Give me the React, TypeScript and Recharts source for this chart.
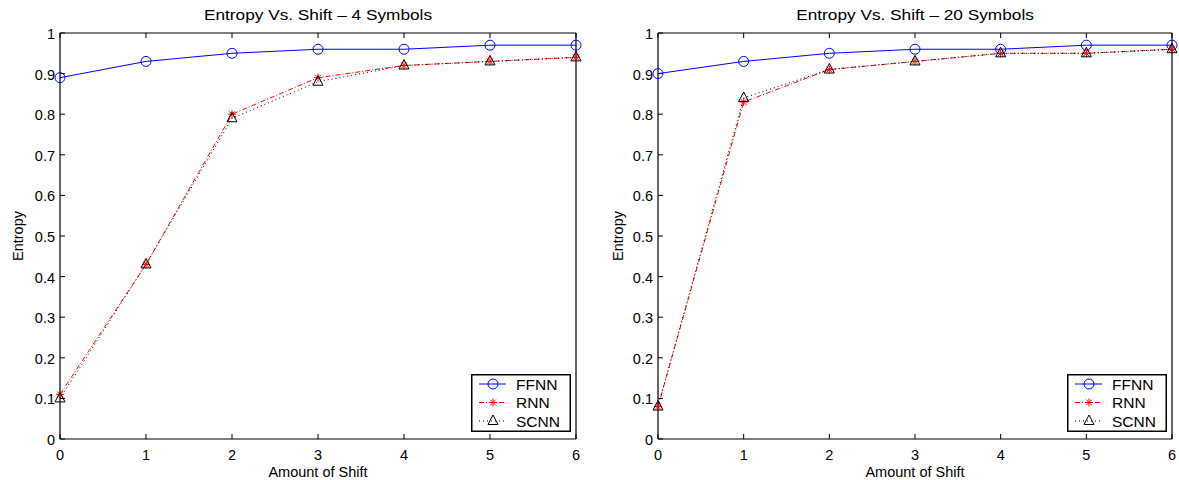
import React from 'react';
import { LineChart, Line, XAxis, YAxis, Legend, Label } from 'recharts';

const shifts = [0, 1, 2, 3, 4, 5, 6];
const ffnn4 = [0.89, 0.93, 0.95, 0.96, 0.96, 0.97, 0.97];
const rnn4 = [0.11, 0.43, 0.8, 0.89, 0.92, 0.93, 0.94];
const scnn4 = [0.1, 0.43, 0.79, 0.88, 0.92, 0.93, 0.94];
const ffnn20 = [0.9, 0.93, 0.95, 0.96, 0.96, 0.97, 0.97];
const rnn20 = [0.08, 0.83, 0.91, 0.93, 0.95, 0.95, 0.96];
const scnn20 = [0.08, 0.84, 0.91, 0.93, 0.95, 0.95, 0.96];
const xTicks = [0, 1, 2, 3, 4, 5, 6];
const yTicks = [0, 0.1, 0.2, 0.3, 0.4, 0.5, 0.6, 0.7, 0.8, 0.9, 1];
const seriesNames = ['FFNN', 'RNN', 'SCNN'];
const titles = ['Entropy Vs. Shift \u2013 4 Symbols', 'Entropy Vs. Shift \u2013 20 Symbols'];

const build = (a: number[], b: number[], c: number[]) =>
  shifts.map((s, i) => ({ shift: s, FFNN: a[i], RNN: b[i], SCNN: c[i] }));

const data4 = build(ffnn4, rnn4, scnn4);
const data20 = build(ffnn20, rnn20, scnn20);

const BLUE = '#0000ff';
const RED = '#ff0000';
const FS = 14.5;

const CircleMark = ({ cx, cy }: any) => (
  <circle cx={cx} cy={cy} r={5} fill="none" stroke={BLUE} strokeWidth={1} />
);
const StarMark = ({ cx, cy }: any) => {
  const r = 4;
  const d = 2.9;
  return (
    <path
      d={`M${cx - r},${cy}H${cx + r}M${cx},${cy - r}V${cy + r}M${cx - d},${cy - d}L${cx + d},${cy + d}M${cx - d},${cy + d}L${cx + d},${cy - d}`}
      stroke={RED}
      strokeWidth={1}
      fill="none"
    />
  );
};
const TriMark = ({ cx, cy }: any) => (
  <polygon
    points={`${cx},${cy - 6} ${cx - 5},${cy + 3.5} ${cx + 5},${cy + 3.5}`}
    fill="none"
    stroke="#000"
    strokeWidth={1}
  />
);

const BottomTick = (p: any) => (
  <g>
    <line x1={p.x} x2={p.x} y1={p.y} y2={p.y - 5} stroke="#000" strokeWidth={1} />
    <text x={p.x} y={p.y + 21} textAnchor="middle" fontSize={FS} fill="#000">
      {String(p.payload.value)}
    </text>
  </g>
);
const TopTick = (p: any) => (
  <line x1={p.x} x2={p.x} y1={p.y} y2={p.y + 5} stroke="#000" strokeWidth={1} />
);
const LeftTick = (p: any) => (
  <g>
    <line x1={p.x} x2={p.x + 5} y1={p.y} y2={p.y} stroke="#000" strokeWidth={1} />
    <text x={p.x - 5} y={p.y + 6} textAnchor="end" fontSize={FS} fill="#000">
      {String(p.payload.value)}
    </text>
  </g>
);
const RightTick = (p: any) => (
  <line x1={p.x} x2={p.x - 5} y1={p.y} y2={p.y} stroke="#000" strokeWidth={1} />
);

const EntropyLabel = (p: any) => {
  const vb = p.viewBox || { x: 0, y: 0, width: 0, height: 0 };
  const cx = vb.x + 18;
  const cy = vb.y + vb.height / 2;
  return (
    <text
      transform={`translate(${cx},${cy}) rotate(-90)`}
      textAnchor="middle"
      dominantBaseline="central"
      fontSize={FS}
      fill="#000"
    >
      Entropy
    </text>
  );
};

const makeTitle = (title: string) => (p: any) => {
  const vb = p.viewBox || { x: 0, y: 0, width: 0, height: 0 };
  const cx = vb.x + vb.width / 2;
  const by = vb.y - 12;
  return (
    <text
      transform={`translate(${cx},${by}) scale(1.15,1)`}
      textAnchor="middle"
      fontSize={15}
      fill="#000"
    >
      {title}
    </text>
  );
};

const LegendBox = () => (
  <svg width={100} height={58} style={{ display: 'block' }}>
    <rect x={0.75} y={0.75} width={98.5} height={56.5} fill="#fff" stroke="#000" strokeWidth={1.5} />
    {seriesNames.map((name, i) => {
      const y = 10 + i * 18.5;
      const color = i === 0 ? BLUE : i === 1 ? RED : '#000';
      const dash = i === 0 ? undefined : i === 1 ? '5 2 1 2' : '1 3';
      return (
        <g key={name}>
          <line x1={8} x2={35} y1={y} y2={y} stroke={color} strokeWidth={1} strokeDasharray={dash} />
          {i === 0 && <CircleMark cx={22} cy={y} />}
          {i === 1 && <StarMark cx={22} cy={y} />}
          {i === 2 && <TriMark cx={22} cy={y} />}
          <text x={45} y={y + 5.5} fontSize={15.5} fill="#000">
            {name}
          </text>
        </g>
      );
    })}
  </svg>
);

type PanelProps = {
  title: string;
  data: any[];
  width: number;
  yAxisWidth: number;
  marginRight: number;
  legendLeft: number;
};

const Panel = ({ title, data, width, yAxisWidth, marginRight, legendLeft }: PanelProps) => (
  <LineChart
    width={width}
    height={480}
    data={data}
    margin={{ top: 32, right: marginRight, bottom: 0, left: 0 }}
  >
    <XAxis
      dataKey="shift"
      type="number"
      domain={[0, 6]}
      ticks={xTicks}
      interval={0}
      height={41}
      tickSize={0}
      tickMargin={0}
      tickLine={false}
      axisLine={{ stroke: '#000', strokeWidth: 1.2 }}
      tick={BottomTick}
    >
      <Label value="Amount of Shift" position="insideBottom" offset={3} fontSize={FS} fill="#000" />
    </XAxis>
    <XAxis
      xAxisId="top"
      orientation="top"
      dataKey="shift"
      type="number"
      domain={[0, 6]}
      ticks={xTicks}
      interval={0}
      height={1}
      tickSize={0}
      tickMargin={0}
      tickLine={false}
      axisLine={{ stroke: '#000', strokeWidth: 1.2 }}
      tick={TopTick}
    >
      <Label content={makeTitle(title)} />
    </XAxis>
    <YAxis
      type="number"
      domain={[0, 1]}
      ticks={yTicks}
      interval={0}
      width={yAxisWidth}
      tickSize={0}
      tickMargin={0}
      tickLine={false}
      axisLine={{ stroke: '#000', strokeWidth: 1.2 }}
      tick={LeftTick}
    >
      <Label content={EntropyLabel} />
    </YAxis>
    <YAxis
      yAxisId="right"
      orientation="right"
      type="number"
      domain={[0, 1]}
      ticks={yTicks}
      interval={0}
      width={1}
      tickSize={0}
      tickMargin={0}
      tickLine={false}
      axisLine={{ stroke: '#000', strokeWidth: 1.2 }}
      tick={RightTick}
    />
    <Line
      dataKey="FFNN"
      stroke={BLUE}
      strokeWidth={1}
      isAnimationActive={false}
      dot={(p: any) => <CircleMark key={`c${p.index}`} cx={p.cx} cy={p.cy} />}
      activeDot={false}
    />
    <Line
      dataKey="RNN"
      stroke={RED}
      strokeWidth={1}
      strokeDasharray="5 2 1 2"
      isAnimationActive={false}
      dot={(p: any) => <StarMark key={`s${p.index}`} cx={p.cx} cy={p.cy} />}
      activeDot={false}
    />
    <Line
      dataKey="SCNN"
      stroke="#000"
      strokeWidth={1}
      strokeDasharray="1 3"
      isAnimationActive={false}
      dot={(p: any) => <TriMark key={`t${p.index}`} cx={p.cx} cy={p.cy} />}
      activeDot={false}
    />
    <Legend
      layout="vertical"
      align="center"
      verticalAlign="middle"
      content={LegendBox}
      wrapperStyle={{ left: legendLeft, top: 374, width: 100, height: 58 }}
    />
  </LineChart>
);

export default function App() {
  return (
    <div
      style={{
        position: 'absolute',
        left: 0,
        top: 0,
        width: 1179,
        height: 480,
        background: '#fff',
        fontFamily: '"Liberation Sans", Arial, Helvetica, sans-serif',
      }}
    >
      <div style={{ position: 'absolute', left: 0, top: 0 }}>
        <Panel title={titles[0]} data={data4} width={600} yAxisWidth={60} marginRight={23} legendLeft={471} />
      </div>
      <div style={{ position: 'absolute', left: 600, top: 0 }}>
        <Panel title={titles[1]} data={data20} width={579} yAxisWidth={58} marginRight={6} legendLeft={467} />
      </div>
    </div>
  );
}
